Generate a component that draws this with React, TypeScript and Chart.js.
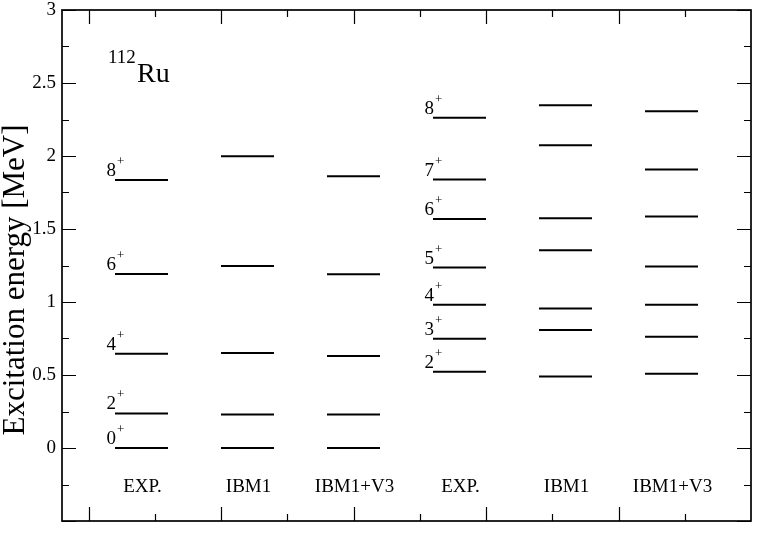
import React, { useEffect, useRef } from "react";
import { Chart, registerables } from "chart.js";
Chart.register(...registerables);

// ---- data ----
const columns = ["EXP.", "IBM1", "IBM1+V3", "EXP.", "IBM1", "IBM1+V3"];
const gsbSpins = [0, 2, 4, 6, 8];
const gsbExp = [0, 0.237, 0.645, 1.191, 1.835];
const gsbIbm1 = [0, 0.23, 0.65, 1.247, 1.999];
const gsbIbm1V3 = [0, 0.23, 0.63, 1.19, 1.862];
const gammaSpins = [2, 3, 4, 5, 6, 7, 8];
const gammaExp = [0.523, 0.748, 0.981, 1.236, 1.568, 1.839, 2.262];
const gammaIbm1 = [0.489, 0.808, 0.956, 1.354, 1.573, 2.074, 2.347];
const gammaIbm1V3 = [0.508, 0.762, 0.981, 1.243, 1.585, 1.908, 2.306];
const yMajorTicks = [-0.5, 0, 0.5, 1, 1.5, 2, 2.5, 3];
const yMinorTicks = [-0.25, 0.25, 0.75, 1.25, 1.75, 2.25, 2.75];
const xMajorTicks = [1, 2, 3, 4, 5];
const xMinorTicks = [1.5, 2.5, 3.5, 4.5, 5.5];

const columnLevels = [gsbExp, gsbIbm1, gsbIbm1V3, gammaExp, gammaIbm1, gammaIbm1V3];
const columnStart = (i: number) => 1.2 + 0.8 * i;
const LEVEL_W = 0.4;

const FONT = "'Liberation Serif', 'Times New Roman', serif";

const decorPlugin = {
  id: "decor",
  afterDraw(chart: any) {
    const ctx = chart.ctx;
    const { left, right, top, bottom } = chart.chartArea;
    const xs = chart.scales.x;
    const ys = chart.scales.y;
    ctx.save();
    ctx.strokeStyle = "#000";
    ctx.fillStyle = "#000";
    // frame
    ctx.lineWidth = 1.7;
    ctx.strokeRect(left, top, right - left, bottom - top);
    // ticks
    ctx.lineWidth = 1.2;
    ctx.beginPath();
    const MAJ = 14, MIN = 7;
    yMajorTicks.forEach((v) => {
      const y = Math.round(ys.getPixelForValue(v)) + 0.5;
      ctx.moveTo(left, y); ctx.lineTo(left + MAJ, y);
      ctx.moveTo(right, y); ctx.lineTo(right - MAJ, y);
    });
    yMinorTicks.forEach((v) => {
      const y = Math.round(ys.getPixelForValue(v)) + 0.5;
      ctx.moveTo(left, y); ctx.lineTo(left + MIN, y);
      ctx.moveTo(right, y); ctx.lineTo(right - MIN, y);
    });
    xMajorTicks.forEach((v) => {
      const x = Math.round(xs.getPixelForValue(v)) + 0.5;
      ctx.moveTo(x, bottom); ctx.lineTo(x, bottom - MAJ);
      ctx.moveTo(x, top); ctx.lineTo(x, top + MAJ);
    });
    xMinorTicks.forEach((v) => {
      const x = Math.round(xs.getPixelForValue(v)) + 0.5;
      ctx.moveTo(x, bottom); ctx.lineTo(x, bottom - MIN);
      ctx.moveTo(x, top); ctx.lineTo(x, top + MIN);
    });
    ctx.stroke();

    // column labels
    ctx.font = `19px ${FONT}`;
    ctx.textAlign = "center";
    ctx.textBaseline = "alphabetic";
    columns.forEach((c, i) => {
      const x = xs.getPixelForValue(columnStart(i) + LEVEL_W / 2);
      ctx.fillText(c, x + 1, ys.getPixelForValue(-0.3));
    });

    // spin labels
    const drawSpin = (spin: number, colIdx: number, e: number) => {
      const x = xs.getPixelForValue(columnStart(colIdx)) + 1;
      const y = ys.getPixelForValue(e);
      ctx.font = `19px ${FONT}`;
      ctx.textAlign = "right";
      ctx.fillText(String(spin), x, y - 4);
      ctx.font = `13px ${FONT}`;
      ctx.textAlign = "left";
      ctx.fillText("+", x + 1, y - 15);
    };
    gsbSpins.forEach((s, k) => drawSpin(s, 0, gsbExp[k]));
    gammaSpins.forEach((s, k) => drawSpin(s, 3, gammaExp[k]));

    // nucleus label
    ctx.textAlign = "left";
    ctx.font = `19px ${FONT}`;
    ctx.fillText("112", 108, 63);
    ctx.font = `28px ${FONT}`;
    ctx.fillText("Ru", 137, 82);

    // y title
    ctx.save();
    ctx.translate(24, 280);
    ctx.rotate(-Math.PI / 2);
    ctx.font = `31px ${FONT}`;
    ctx.textAlign = "center";
    ctx.fillText("Excitation energy [MeV]", 0, 0);
    ctx.restore();

    ctx.restore();
  },
};

export default function App() {
  const ref = useRef<HTMLCanvasElement | null>(null);
  useEffect(() => {
    if (!ref.current) return;
    const datasets: any[] = [];
    columnLevels.forEach((levels, i) => {
      levels.forEach((e) => {
        datasets.push({
          data: [
            { x: columnStart(i), y: e },
            { x: columnStart(i) + LEVEL_W, y: e },
          ],
          borderColor: "#000",
          borderWidth: 2,
          pointRadius: 0,
          fill: false,
        });
      });
    });
    const chart = new Chart(ref.current, {
      type: "line",
      data: { datasets },
      options: {
        responsive: false,
        animation: false,
        layout: { padding: { left: 0, top: 10, right: 12, bottom: 24 } },
        plugins: { legend: { display: false }, tooltip: { enabled: false } },
        scales: {
          x: { type: "linear", min: 0.8, max: 6, display: false },
          y: {
            type: "linear",
            min: -0.5,
            max: 3,
            afterFit: (s: any) => {
              s.width = 62;
              s.paddingTop = 0;
              s.paddingBottom = 0;
            },
            grid: { display: false, drawTicks: false },
            border: { display: false },
            ticks: {
              stepSize: 0.5,
              padding: 6,
              color: "#000",
              font: { family: "'Liberation Serif'", size: 19 },
              callback: (v: any) => (Number(v) < 0 ? "" : String(v)),
            },
          },
        },
      },
      plugins: [decorPlugin],
    } as any);
    return () => chart.destroy();
  }, []);
  return (
    <canvas
      ref={ref}
      width={763}
      height={545}
      style={{ position: "fixed", left: 0, top: 0, width: 763, height: 545, background: "#fff" }}
    />
  );
}
